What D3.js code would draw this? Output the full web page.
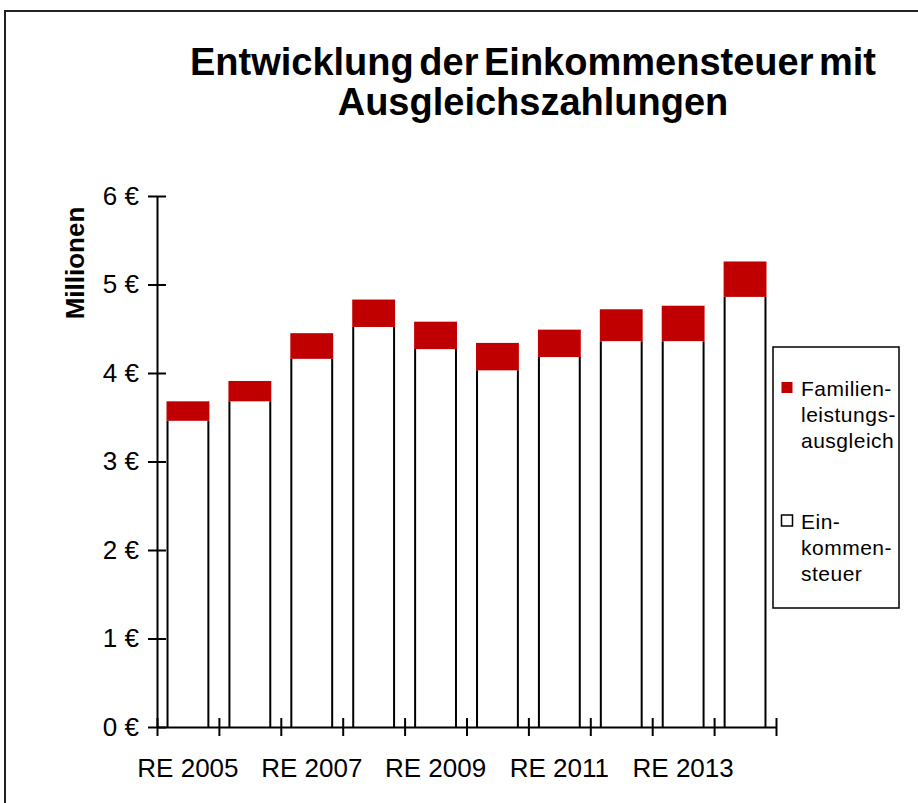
<!DOCTYPE html>
<html>
<head>
<meta charset="utf-8">
<script src="https://cdn.jsdelivr.net/npm/d3@7"></script>
<style>
  html, body { margin: 0; padding: 0; background: #fff; }
  svg { display: block; font-family: "Liberation Sans", Arial, sans-serif; }
</style>
</head>
<body>
<svg id="chart" width="918" height="803"></svg>
<script>
// ---- data ----
const categories = ["RE 2005","RE 2006","RE 2007","RE 2008","RE 2009","RE 2010","RE 2011","RE 2012","RE 2013","RE 2014"];
const einkommensteuer = [3.46, 3.68, 4.16, 4.52, 4.27, 4.03, 4.18, 4.36, 4.36, 4.86];
const familienleistungsausgleich = [0.22, 0.23, 0.29, 0.31, 0.31, 0.31, 0.31, 0.36, 0.40, 0.40];
const yTicks = [0, 1, 2, 3, 4, 5, 6];
const shownLabels = ["RE 2005","RE 2007","RE 2009","RE 2011","RE 2013"];
const titleLines = ["Entwicklung der Einkommensteuer mit", "Ausgleichszahlungen"];
const legendItems = [
  { name: ["Familien-", "leistungs-", "ausgleich"], color: "#C00000", stroke: "none" },
  { name: ["Ein-", "kommen-", "steuer"], color: "#ffffff", stroke: "#000" }
];

const svg = d3.select("#chart");

// outer frame (top and left visible)
svg.append("path")
  .attr("d", "M5,820 L5,11 L930,11")
  .attr("fill", "none").attr("stroke", "#222").attr("stroke-width", 2);

// title
const title = svg.append("text")
  .attr("text-anchor", "middle")
  .attr("font-weight", "bold")
  .attr("font-size", 38)
  .attr("word-spacing", -5)
  .attr("fill", "#000");
titleLines.forEach((t, i) => {
  title.append("tspan").attr("x", 533).attr("y", 75 + i * 40).text(t);
});

// scales
const x0 = 157, x1 = 776;
const xb = d3.scaleBand().domain(categories).range([x0, x1]).paddingInner(0.34).paddingOuter(0.17);
const xi = d3.scaleLinear().domain([0, categories.length]).range([x0, x1]);
const y = d3.scaleLinear().domain([0, 6]).range([727, 196]);

// bars
const stackData = categories.map((c, i) => ({ c, base: einkommensteuer[i], add: familienleistungsausgleich[i] }));
const g = svg.append("g");
// white segments
g.selectAll("rect.base").data(stackData).join("rect")
  .attr("class", "base")
  .attr("x", d => xb(d.c)).attr("width", xb.bandwidth())
  .attr("y", d => y(d.base)).attr("height", d => y(0) - y(d.base))
  .attr("fill", "#fff");
g.selectAll("path.side").data(stackData).join("path")
  .attr("class", "side")
  .attr("d", d => `M${xb(d.c)},${y(0)} V${y(d.base)} M${xb(d.c) + xb.bandwidth()},${y(0)} V${y(d.base)}`)
  .attr("stroke", "#000").attr("stroke-width", 2).attr("fill", "none");
// red segments
g.selectAll("rect.top").data(stackData).join("rect")
  .attr("class", "top")
  .attr("x", d => xb(d.c) - 1).attr("width", xb.bandwidth() + 2)
  .attr("y", d => y(d.base + d.add)).attr("height", d => y(d.base) - y(d.base + d.add))
  .attr("fill", "#C00000");

// y axis
const yAxis = svg.append("g").attr("transform", `translate(${x0},0)`)
  .call(d3.axisLeft(y).tickValues(yTicks).tickFormat(d => d + " €").tickSizeOuter(0));
yAxis.select(".domain").attr("stroke", "#000").attr("stroke-width", 2);
yAxis.selectAll(".tick line").attr("x1", -9).attr("x2", 9).attr("stroke", "#000").attr("stroke-width", 2);
yAxis.selectAll(".tick text").attr("x", -18).attr("font-size", 26)
  .attr("font-family", "Liberation Sans, Arial, sans-serif").attr("fill", "#000");

// x axis
const xAxis = svg.append("g").attr("transform", `translate(0,${y(0)})`)
  .call(d3.axisBottom(xi).tickValues(d3.range(categories.length + 1)).tickFormat("").tickSizeOuter(0));
xAxis.select(".domain").attr("stroke", "#000").attr("stroke-width", 2);
xAxis.selectAll(".tick line").attr("y1", -9).attr("y2", 9).attr("stroke", "#000").attr("stroke-width", 2);

// x labels
svg.append("g").selectAll("text").data(shownLabels).join("text")
  .attr("x", d => xb(d) + xb.bandwidth() / 2)
  .attr("y", 777)
  .attr("text-anchor", "middle")
  .attr("font-size", 26)
  .attr("fill", "#000")
  .text(d => d);

// y axis title
svg.append("text")
  .attr("transform", "translate(84,263) rotate(-90)")
  .attr("text-anchor", "middle")
  .attr("font-weight", "bold")
  .attr("font-size", 26)
  .attr("fill", "#000")
  .text("Millionen");

// legend
const lg = svg.append("g");
lg.append("rect").attr("x", 773).attr("y", 347).attr("width", 126).attr("height", 261)
  .attr("fill", "#fff").attr("stroke", "#000").attr("stroke-width", 1.5);
const legendY = [382, 515];
legendItems.forEach((it, i) => {
  lg.append("rect").attr("x", 781.5).attr("y", legendY[i]).attr("width", 11).attr("height", 11)
    .attr("fill", it.color).attr("stroke", it.stroke).attr("stroke-width", 1.5);
  const t = lg.append("text").attr("font-size", 21).attr("letter-spacing", 0.5).attr("fill", "#000");
  it.name.forEach((line, j) => {
    t.append("tspan").attr("x", 801).attr("y", legendY[i] + 14 + j * 26).text(line);
  });
});
</script>
</body>
</html>
